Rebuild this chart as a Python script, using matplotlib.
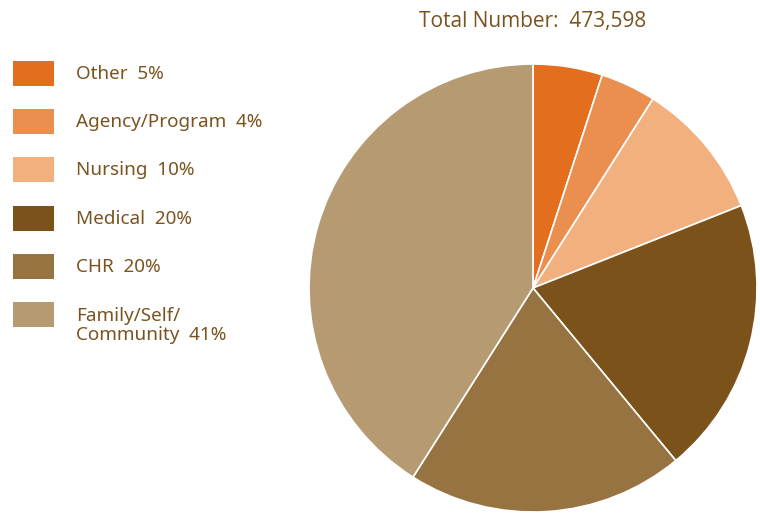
import matplotlib.pyplot as plt
import matplotlib.patches as patches

# share of total, clockwise from 12 o'clock
labels = ["Other", "Agency/Program", "Nursing", "Medical", "CHR", "Family/Self/\nCommunity"]
percents = [5, 4, 10, 20, 20, 41]
colors = ["#E36F1E", "#EB8F50", "#F2B07F", "#7B5219", "#987342", "#B59A72"]
total_number = "473,598"

text_color = "#7A5420"

fig = plt.figure(figsize=(7.6, 5.18), dpi=100)

# pie: center ~ (533, 288) px, radius 224 px
ax = fig.add_axes([309 / 760, 6 / 518, 448 / 760, 448 / 518])
ax.pie(percents, colors=colors, startangle=90, counterclock=False,
       wedgeprops=dict(edgecolor="white", linewidth=1.2))
ax.set_xlim(-1, 1)
ax.set_ylim(-1, 1)
ax.set_aspect("equal")

fig.text(533 / 760, 1 - 22 / 518, "Total Number:  " + total_number,
         ha="center", va="center", fontsize=15, color=text_color,
         family="Open Sans")

# legend on the left, drawn by hand
row_h = 48.2
for i, (lab, pct, col) in enumerate(zip(labels, percents, colors)):
    top = 61 + i * row_h
    fig.add_artist(patches.Rectangle((13 / 760, 1 - (top + 25) / 518), 41 / 760, 25 / 518,
                                     transform=fig.transFigure, facecolor=col,
                                     edgecolor="none"))
    txt = "%s  %d%%" % (lab, pct)
    if "\n" in lab:
        fig.text(76 / 760, 1 - (top + 5) / 518, txt, ha="left", va="top",
                 fontsize=13.6, color=text_color, family="Noto Sans",
                 linespacing=1.1)
    else:
        fig.text(76 / 760, 1 - (top + 13) / 518, txt, ha="left", va="center",
                 fontsize=13.6, color=text_color, family="Noto Sans")

fig.savefig("out.png", dpi=100)
